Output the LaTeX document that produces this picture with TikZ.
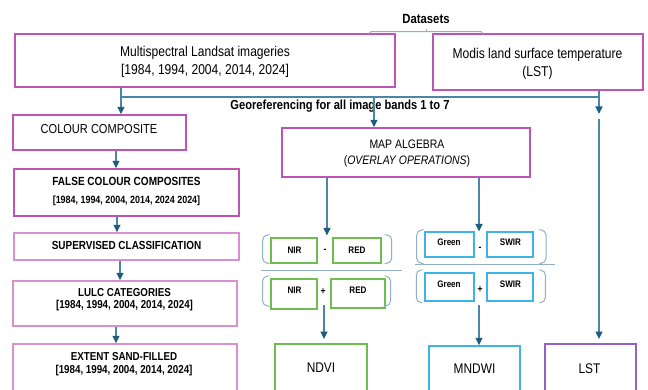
\documentclass[tikz,border=0pt]{standalone}
\usepackage{fontspec}
\setmainfont{Liberation Sans}[FakeStretch=0.85]
\usetikzlibrary{arrows.meta}
\definecolor{mag}{HTML}{BE55B5}
\definecolor{lmag}{HTML}{D890D2}
\definecolor{arr}{HTML}{1D5E80}
\definecolor{lin}{HTML}{4A86A8}
\definecolor{grn}{HTML}{6DBE4F}
\definecolor{lblue}{HTML}{3FB3E6}
\definecolor{purp}{HTML}{9462C2}
\definecolor{brk}{HTML}{8FB0C6}
\newcommand\fsz[1]{\fontsize{#1}{#1}\selectfont}
\begin{document}
\begin{tikzpicture}[x=1pt,y=-1pt,
  box/.style={draw=#1, line width=1.4pt, inner sep=0pt},
  txt/.style={anchor=base, inner sep=0pt, text=black},
  con/.style={draw=lin, line width=1.3pt, -{Triangle[width=7pt,length=7.5pt,color=arr]}},
  plainline/.style={draw=lin, line width=1.3pt},
  brace/.style={draw=brk, line width=1pt, rounded corners=5pt},
  fracline/.style={draw=brk, line width=1.3pt}]
\useasboundingbox (0,0) rectangle (648,390);
\clip (0,0) rectangle (648,390);
\fill[white] (0,0) rectangle (648,390);

% ---- boxes ----
\node[box=mag, minimum width=380pt, minimum height=53pt] (landsat) at (205,60.5) {};
\node[box=mag, minimum width=210pt, minimum height=56pt] (modis) at (538,62) {};
\node[box=mag, minimum width=173pt, minimum height=35pt] (colour) at (99.5,132.5) {};
\node[box=mag, minimum width=225pt, minimum height=47pt] (falsecc) at (126.5,192.5) {};
\node[box=lmag, minimum width=225pt, minimum height=27pt] (superv) at (126.5,246.5) {};
\node[box=lmag, minimum width=224pt, minimum height=45pt] (lulc) at (125,303.5) {};
\node[box=lmag, minimum width=224pt, minimum height=56pt] (extent) at (125,372) {};
\node[box=mag, minimum width=248pt, minimum height=49pt] (mapalg) at (406,152.5) {};

\node[box=grn, line width=1.3pt, minimum width=46pt, minimum height=25pt] (nirA) at (294,250.5) {};
\node[box=grn, line width=1.3pt, minimum width=48pt, minimum height=25pt] (redA) at (357,250.5) {};
\node[box=grn, line width=1.3pt, minimum width=46pt, minimum height=30pt] (nirB) at (294,294) {};
\node[box=grn, line width=1.3pt, minimum width=54pt, minimum height=29pt] (redB) at (358,293.5) {};
\node[box=lblue, line width=1.3pt, minimum width=49pt, minimum height=25pt] (greenA) at (449.5,244.5) {};
\node[box=lblue, line width=1.3pt, minimum width=46pt, minimum height=25pt] (swirA) at (510,244.5) {};
\node[box=lblue, line width=1.3pt, minimum width=49pt, minimum height=28pt] (greenB) at (449.5,287) {};
\node[box=lblue, line width=1.3pt, minimum width=46pt, minimum height=28pt] (swirB) at (510,287) {};

\node[box=grn, minimum width=92pt, minimum height=56pt] (ndvi) at (321,372) {};
\node[box=lblue, minimum width=91pt, minimum height=54pt] (mndwi) at (474.5,373) {};
\node[box=purp, minimum width=91pt, minimum height=56pt] (lst) at (590.5,372) {};

% ---- texts ----
\node[txt, font=\bfseries\fsz{13.3}] (tdata) at (426,23.8) {Datasets};
\node[txt, font=\fsz{14.2}] (tland1) at (205,56.9) {Multispectral Landsat imageries};
\node[txt, font=\fsz{14.2}] (tland2) at (205,74.6) {[1984, 1994, 2004, 2014, 2024]};
\node[txt, font=\fsz{14.2}] (tmod1) at (537.5,58.3) {Modis land surface temperature};
\node[txt, font=\fsz{14.2}] (tmod2) at (537.5,77) {(LST)};
\node[txt, font=\bfseries\fsz{13.1}] (tgeo) at (340,109.3) {Georeferencing for all image bands 1 to 7};
\node[txt, font=\fsz{13}] (tcol) at (99,133.3) {COLOUR COMPOSITE};
\node[txt, font=\bfseries\fsz{11.8}] (tfal1) at (126.5,186) {FALSE COLOUR COMPOSITES};
\node[txt, font=\bfseries\fsz{10.5}] (tfal2) at (126.5,203.3) {[1984, 1994, 2004, 2014, 2024 2024]};
\node[txt, font=\bfseries\fsz{11.7}] (tsup) at (126.5,250) {SUPERVISED CLASSIFICATION};
\node[txt, font=\bfseries\fsz{11.5}] (tlul1) at (124.5,296.7) {LULC CATEGORIES};
\node[txt, font=\bfseries\fsz{11.5}] (tlul2) at (124.5,308.7) {[1984, 1994, 2004, 2014, 2024]};
\node[txt, font=\bfseries\fsz{11.5}] (text1) at (124,360.7) {EXTENT SAND-FILLED};
\node[txt, font=\bfseries\fsz{11.5}] (text2) at (124,373.3) {[1984, 1994, 2004, 2014, 2024]};
\node[txt, font=\fsz{12.3}] (tmap1) at (407,149) {MAP ALGEBRA};
\node[txt, font=\fsz{12.3}] (tmap2) at (407,164.5) {(\textit{OVERLAY OPERATIONS})};

\node[txt, font=\bfseries\fsz{9.5}] (tnirA) at (294.5,253.3) {NIR};
\node[txt, font=\bfseries\fsz{9.5}] (tredA) at (357,253.3) {RED};
\node[txt, font=\bfseries\fsz{10}] (tminA) at (325,252.5) {-};
\node[txt, font=\bfseries\fsz{9.5}] (tnirB) at (294.5,294) {NIR};
\node[txt, font=\bfseries\fsz{9.5}] (tredB) at (358,294) {RED};
\node[txt, font=\bfseries\fsz{10}] (tplA) at (323,294.5) {+};
\node[txt, font=\bfseries\fsz{9.5}] (tgrA) at (449,245.5) {Green};
\node[txt, font=\bfseries\fsz{9.5}] (tswA) at (510.5,245.5) {SWIR};
\node[txt, font=\bfseries\fsz{10}] (tminB) at (480,250.5) {-};
\node[txt, font=\bfseries\fsz{9.5}] (tgrB) at (449,287.5) {Green};
\node[txt, font=\bfseries\fsz{9.5}] (tswB) at (510.5,287.5) {SWIR};
\node[txt, font=\bfseries\fsz{10}] (tplB) at (480,292.5) {+};

\node[txt, font=\fsz{14}] (tndvi) at (321,372.7) {NDVI};
\node[txt, font=\fsz{14}] (tmndwi) at (474.5,373.3) {MNDWI};
\node[txt, font=\fsz{14}] (tlst) at (589.5,373) {LST};

% ---- datasets brace ----
\draw[brace, rounded corners=1.5pt] (369.3,34) -- (369.3,31.7) -- (482.7,31.7) -- (482.7,34);
\draw[draw=brk, line width=1pt] (426,31.7) -- (426,28.7);

% ---- fraction braces ----
\draw[brace] (267,235) -- (262.7,235) -- (262.7,263.3) -- (267,263.3);
\draw[brace] (387,235) -- (391.7,235) -- (391.7,263.3) -- (387,263.3);
\draw[fracline] (261,270.7) -- (401.7,270.7);
\draw[brace] (267,276) -- (262.7,276) -- (262.7,306) -- (267,306);
\draw[brace] (386,276) -- (390.5,276) -- (390.5,306) -- (386,306);

\draw[brace] (421,230) -- (416.7,230) -- (416.7,263.3) -- (421,263.3);
\draw[brace] (541.5,230) -- (546,230) -- (546,263.3) -- (541.5,263.3);
\draw[fracline] (415,264.3) -- (555,264.3);
\draw[brace] (420.5,270) -- (416.3,270) -- (416.3,302.7) -- (420.5,302.7);
\draw[brace] (541,270) -- (545.3,270) -- (545.3,302.7) -- (541,302.7);

% ---- connectors ----
\coordinate (gl) at (121,97);
\coordinate (gr) at (599,97);
\coordinate (modtip) at (599,114);
\coordinate (lsttop) at (599,119);
\coordinate (lsttip) at (599,339);
\draw[con] (landsat.south -| gl) -- (colour.north -| gl);
\draw[plainline] (gl) -- (gr);
\draw[con] (modis.south -| gr) -- (modtip);
\draw[con] (lsttop) -- (lsttip);
\draw[con] (374,97) -- (mapalg.north -| 374,0);
\draw[con] (colour.south -| 116,0) -- (falsecc.north -| 116,0);
\draw[con] (falsecc.south -| 117,0) -- (superv.north -| 117,0);
\draw[con] (superv.south -| 120,0) -- (lulc.north -| 120,0);
\draw[con] (lulc.south -| 116,0) -- (extent.north -| 116,0);
\coordinate (ndviTop) at (327,235.5);
\coordinate (mndwiTop) at (479,231.5);
\draw[con] (mapalg.south -| ndviTop) -- (ndviTop);
\draw[con] (mapalg.south -| mndwiTop) -- (mndwiTop);
\coordinate (ndviFrom) at (324,305);
\coordinate (mndwiFrom) at (479,305);
\draw[con] (ndviFrom) -- (324,339) coordinate (ndviTip);
\draw[con] (mndwiFrom) -- (mndwi.north -| mndwiFrom);
\end{tikzpicture}
\end{document}
